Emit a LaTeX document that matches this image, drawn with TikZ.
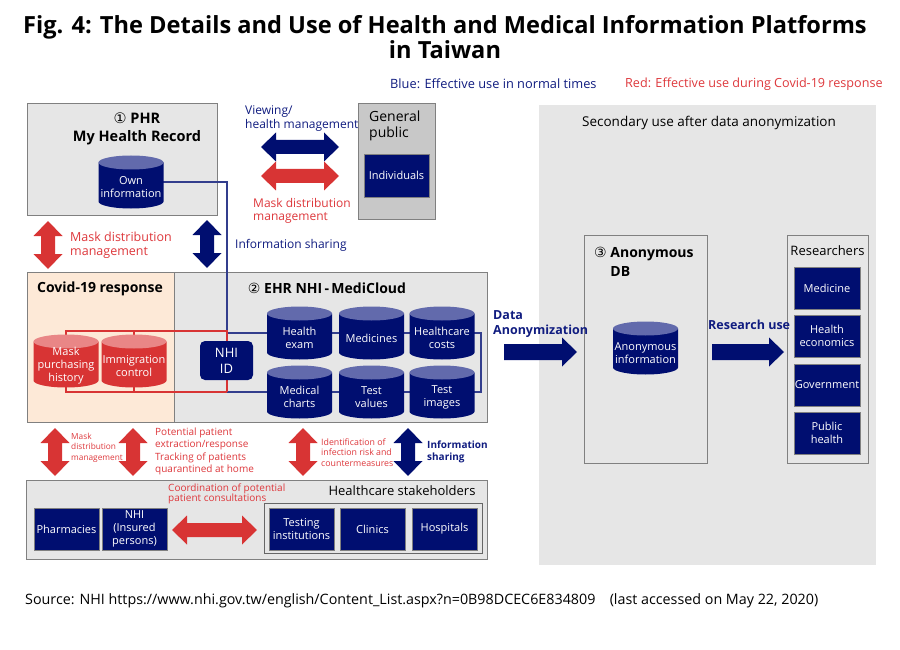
\documentclass[tikz,border=0pt]{standalone}
\usepackage{fontspec}
\setmainfont{Open Sans}
\newfontfamily\symfont{DejaVu Sans}
\usetikzlibrary{positioning}

\definecolor{navy}{RGB}{0,14,112}
\definecolor{navytop}{RGB}{98,106,172}
\definecolor{navytxt}{RGB}{16,28,128}
\definecolor{redc}{RGB}{216,52,52}
\definecolor{redtop}{RGB}{233,134,134}
\definecolor{redtxt}{RGB}{222,56,60}
\definecolor{boxgray}{RGB}{230,230,230}
\definecolor{pubgray}{RGB}{200,200,200}
\definecolor{peach}{RGB}{253,233,215}
\definecolor{edgegray}{RGB}{128,128,128}

\newcommand\fsz[2]{\fontsize{#1}{#2}\selectfont}
\newcommand\cnum[1]{{\mdseries\symfont #1}}

\tikzset{
  graybox/.style={draw=edgegray, fill=boxgray, line width=0.8pt, inner sep=0pt, anchor=north west},
  navybox/.style={fill=navy, draw=edgegray, line width=0.5pt, text=white, align=center,
    inner sep=0pt, minimum width=65pt, minimum height=42pt, font=\fsz{11}{13}},
  lbl/.style={inner sep=0pt, align=left, anchor=west},
  bluelbl/.style={lbl, text=navytxt},
  redlbl/.style={lbl, text=redtxt},
  navyline/.style={draw=navy!80, line width=1.3pt},
  redline/.style={draw=redc, line width=1.5pt},
  % database cylinder: body colour, top colour, text
  pics/dbcyl/.style n args={3}{code={
    \fill[#1] (-32.5,-19.5) -- (-32.5,19.5) arc[start angle=180, end angle=360, x radius=32.5pt, y radius=7pt]
      -- (32.5,-19.5) -- cycle;
    \fill[#2] (0,-19.5) ellipse[x radius=32.5pt, y radius=7pt];
    \node[text=white, align=center, font=\fsz{11}{13}, inner sep=0pt] (-t) at (0,5) {#3};
  }},
  % double arrow: half length, colour
  pics/dblarrow/.style 2 args={code={
    \fill[#2] (-#1,0) -- (-#1+15,-14.5) -- (-#1+15,-7) -- (#1-15,-7) -- (#1-15,-14.5) -- (#1,0)
      -- (#1-15,14.5) -- (#1-15,7) -- (-#1+15,7) -- (-#1+15,14.5) -- cycle;
  }},
  % single arrow: half length, colour
  pics/onearrow/.style 2 args={code={
    \fill[#2] (-#1,-8) -- (#1-15,-8) -- (#1-15,-14.5) -- (#1,0) -- (#1-15,14.5) -- (#1-15,8) -- (-#1,8) -- cycle;
  }},
}

\begin{document}
\begin{tikzpicture}[x=1pt, y=-1pt]
  \useasboundingbox[fill=white] (0,0) rectangle (900,650);

  % title and legend
  \node[font=\fsz{23.6}{25}\bfseries, align=center] (title) at (445,37)
    {Fig. 4: The Details and Use of Health and Medical Information Platforms\\in Taiwan};
  \node[bluelbl, font=\fsz{12.8}{14}] (legblue) at (390,84) {Blue: Effective use in normal times};
  \node[redlbl, font=\fsz{12.6}{14}] (legred) at (625,84) {Red: Effective use during Covid-19 response};

  % boxes
  \node[graybox, minimum width=190pt, minimum height=112pt] (phr) at (27,103) {};
  \node[graybox, fill=pubgray, minimum width=77pt, minimum height=116pt] (public) at (358,103) {};
  \node[graybox, fill=peach, minimum width=147pt, minimum height=150pt] (covid) at (27,272) {};
  \node[graybox, minimum width=313pt, minimum height=150pt] (ehr) at (174,272) {};
  \node[fill=boxgray, anchor=north west, inner sep=0pt, minimum width=337pt, minimum height=460pt] (second) at (539,105) {};
  \node[graybox, minimum width=123pt, minimum height=228pt] (anondb) at (584,235) {};
  \node[graybox, minimum width=81pt, minimum height=228pt] (research) at (787,235) {};
  \node[graybox, minimum width=461pt, minimum height=79pt] (stake) at (26,480) {};
  \node[graybox, draw=gray!80!black, minimum width=218pt, minimum height=50pt] (stakein) at (264,503) {};

  % box titles
  \node[font=\fsz{14.5}{18}\bfseries, align=center] (phrtitle) at (137,129) {\cnum{①} PHR\\My Health Record};
  \node[font=\fsz{14}{16}, align=left, anchor=north west, inner sep=0pt] (pubtitle) at (369,111) {General\\public};
  \node[font=\fsz{14}{16}\bfseries] (covidtitle) at (100,289) {Covid-19 response};
  \node[font=\fsz{14}{16}\bfseries] (ehrtitle) at (327,288) {\cnum{②} EHR NHI\,-\,MediCloud};
  \node[font=\fsz{13.5}{16}] (secondtitle) at (709,123) {Secondary use after data anonymization};
  \node[font=\fsz{14}{19}\bfseries, align=left, anchor=north west, inner sep=0pt] (anontitle) at (594,247)
    {\cnum{③} Anonymous\\\hphantom{\cnum{③} }DB};
  \node[font=\fsz{13}{16}] (restitle) at (827.5,251) {Researchers};
  \node[font=\fsz{13}{16}, anchor=east] (staketitle) at (479,491) {Healthcare stakeholders};

  % cylinder centres
  \coordinate (own) at (131,182);
  \coordinate (mask) at (66,361);
  \coordinate (immig) at (134,361);
  \coordinate (hexam) at (299.5,333);
  \coordinate (meds) at (371.5,333);
  \coordinate (hcost) at (442,333);
  \coordinate (mchart) at (299.5,392);
  \coordinate (tval) at (371.5,392);
  \coordinate (timg) at (442,392);
  \coordinate (anon) at (645.5,348);
  \coordinate (jtop) at (227,333);
  \coordinate (rtop) at (227,331);
  \coordinate (jbot) at (227,392);

  % links behind the cylinders
  \draw[navyline] (own) -| (jtop) -- (hcost) -- ++(39,0) |- (timg) -- (jbot);
  \draw[redline] (mask) |- (rtop) (immig) |- (rtop) -- (jbot) (mask) |- (jbot) (immig) |- (jbot);

  % cylinders
  \pic (own) at (own) {dbcyl={navy}{navytop}{Own\\information}};
  \pic (mask) at (mask) {dbcyl={redc}{redtop}{Mask\\purchasing\\history}};
  \pic (immig) at (immig) {dbcyl={redc}{redtop}{Immigration\\control}};
  \pic (hexam) at (hexam) {dbcyl={navy}{navytop}{Health\\exam}};
  \pic (meds) at (meds) {dbcyl={navy}{navytop}{Medicines}};
  \pic (hcost) at (hcost) {dbcyl={navy}{navytop}{Healthcare\\costs}};
  \pic (mchart) at (mchart) {dbcyl={navy}{navytop}{Medical\\charts}};
  \pic (tval) at (tval) {dbcyl={navy}{navytop}{Test\\values}};
  \pic (timg) at (timg) {dbcyl={navy}{navytop}{Test\\images}};
  \pic (anon) at (anon) {dbcyl={navy}{navytop}{Anonymous\\information}};

  \node[fill=navy, rounded corners=5pt, minimum width=53pt, minimum height=39pt, text=white,
    align=center, font=\fsz{13}{16}] (nhiid) at (226.5,360.5) {NHI\\ID};

  % navy boxes
  \node[navybox, minimum height=43pt] (indiv) at (396.5,175.5) {Individuals};
  \node[navybox, minimum width=66pt] (medicine) at (827,288) {Medicine};
  \node[navybox, minimum width=66pt] (healthecon) at (827,336) {Health\\economics};
  \node[navybox, minimum width=66pt] (gov) at (827,385) {Government};
  \node[navybox, minimum width=66pt] (pubhealth) at (827,433) {Public\\health};
  \node[navybox] (pharm) at (66.5,529) {Pharmacies};
  \node[navybox] (nhiins) at (134.5,529) {NHI\\(Insured\\persons)};
  \node[navybox] (testing) at (301.5,529) {Testing\\institutions};
  \node[navybox] (clinics) at (372.5,529) {Clinics};
  \node[navybox] (hospitals) at (444.5,529) {Hospitals};

  % arrows and their labels
  \pic at (300,147) {dblarrow={39}{navy}};
  \pic at (300,176) {dblarrow={39}{redc}};
  \node[bluelbl, font=\fsz{12}{14}] (viewlbl) at (245,119) {Viewing/\\health management};
  \node[redlbl, font=\fsz{12}{13}] (masklbl1) at (253,210.5) {Mask distribution\\management};

  \pic[rotate=90] at (48,245) {dblarrow={24}{redc}};
  \node[redlbl, font=\fsz{12.5}{14}] (masklbl2) at (70,245) {Mask distribution\\management};
  \pic[rotate=90] at (207,244) {dblarrow={24}{navy}};
  \node[bluelbl, font=\fsz{12}{14}] (sharelbl1) at (235,245) {Information sharing};

  \node[bluelbl, font=\fsz{12.5}{15}\bfseries] (anonlbl) at (493,324.5) {Data\\Anonymization};
  \pic at (540.5,352) {onearrow={36.5}{navy}};
  \node[bluelbl, font=\fsz{12.5}{15}\bfseries] (reslbl) at (708,325) {Research use};
  \pic at (748,352) {onearrow={36}{navy}};

  \pic[rotate=90] at (55,452) {dblarrow={24}{redc}};
  \node[redlbl, font=\fsz{8.3}{10.5}] (masklbl3) at (71,447.5) {Mask\\distribution\\management};
  \pic[rotate=90] at (133,452) {dblarrow={24}{redc}};
  \node[redlbl, font=\fsz{10}{12.3}] (patientlbl) at (155,451.5)
    {Potential patient\\extraction/response\\Tracking of patients\\quarantined at home};
  \pic[rotate=90] at (303,452) {dblarrow={24}{redc}};
  \node[redlbl, font=\fsz{8.8}{10.7}] (risklbl) at (321,452.5) {Identification of\\infection risk and\\countermeasures};
  \pic[rotate=90] at (408,452) {dblarrow={24}{navy}};
  \node[bluelbl, font=\fsz{10}{12}\bfseries] (sharelbl2) at (427,452) {Information\\sharing};

  \pic at (214.5,530) {dblarrow={42.5}{redc}};
  \node[redlbl, font=\fsz{10}{10.5}] (coordlbl) at (168,494) {Coordination of potential\\patient consultations};

  % source
  \node[lbl, font=\fsz{14.3}{16}] (source) at (25,601)
    {Source: NHI https://www.nhi.gov.tw/english/Content\_List.aspx?n=0B98DCEC6E834809\quad(last accessed on May 22, 2020)};
\end{tikzpicture}
\end{document}
